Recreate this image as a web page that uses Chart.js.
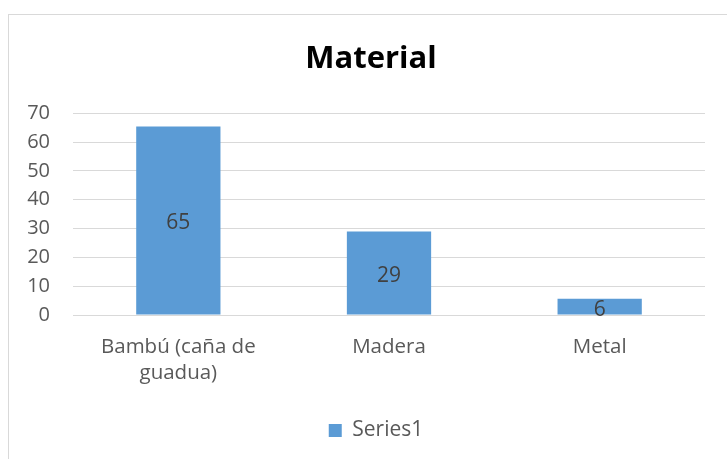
<!DOCTYPE html>
<html>
<head>
<meta charset="utf-8">
<script src="https://cdn.jsdelivr.net/npm/chart.js@4/dist/chart.umd.min.js"></script>
<style>
    html, body { margin: 0; padding: 0; background: #fff; overflow: hidden; }
    #frame {
        position: absolute; left: 8px; top: 14px;
        width: 760px; height: 500px;
        border: 1px solid #d9d9d9;
    }
    #wrap { position: absolute; left: 0; top: 0; width: 727px; height: 459px; }
</style>
</head>
<body>
<div id="frame"></div>
<div id="wrap"><canvas id="materialChart" width="727" height="459"></canvas></div>

<script>
// ======================================================
// Données
// ======================================================

const categories = [["Bambú (caña de", "guadua)"], "Madera", "Metal"];
const values = [65.4, 29.0, 5.6];
const yTicks = [0, 10, 20, 30, 40, 50, 60, 70];
const seriesName = "Series1";

const textColor = "#595959";

// ======================================================
// Etiquettes dans les barres
// ======================================================

const barLabels = {

    id: "barLabels",

    // titre et légende décalés comme dans Excel
    afterLayout(chart) {

        chart.titleBlock.left = 37;
        chart.legend.left = 47;

    },

    afterDatasetsDraw(chart) {

        const ctx = chart.ctx;
        const meta = chart.getDatasetMeta(0);

        ctx.save();
        ctx.font = "21px 'Open Sans'";
        ctx.fillStyle = "#404040";
        ctx.textAlign = "center";
        ctx.textBaseline = "middle";

        meta.data.forEach((bar, i) => {

            const y = (bar.y + bar.base) / 2 + 3;
            ctx.fillText(Math.round(values[i]), bar.x, y);

        });

        ctx.restore();

    }

};

// ======================================================
// Graphique
// ======================================================

new Chart(document.getElementById("materialChart"), {

    type: "bar",

    data: {

        labels: categories,

        datasets: [
            {
                label: seriesName,
                data: values,
                backgroundColor: "#5B9BD5",
                barPercentage: 0.4,
                categoryPercentage: 1
            }
        ]

    },

    options: {

        responsive: false,
        animation: false,

        layout: {
            padding: { left: 0, right: 22, top: 0, bottom: 8 }
        },

        plugins: {

            title: {
                display: true,
                text: "Material",
                color: "#000",
                font: { family: "Open Sans", size: 31, weight: "bold" },
                padding: { top: 41, bottom: 35 }
            },

            legend: {
                position: "bottom",
                labels: {
                    color: textColor,
                    font: { family: "Open Sans", size: 21 },
                    boxWidth: 13,
                    boxHeight: 13,
                    padding: 8
                }
            },

            tooltip: { enabled: false }

        },

        scales: {

            x: {
                grid: { display: false, drawTicks: false },
                border: { display: false },
                ticks: {
                    color: textColor,
                    font: { family: "Open Sans", size: 20.5, lineHeight: 1.27 },
                    padding: 19,
                    maxRotation: 0
                },
                afterFit: s => { s.height = 97; }
            },

            y: {
                min: 0,
                max: 70,
                grid: { color: "#d9d9d9", drawTicks: false },
                border: { display: false },
                afterBuildTicks: s => { s.ticks = yTicks.map(v => ({ value: v })); },
                ticks: {
                    color: textColor,
                    font: { family: "Open Sans", size: 20 },
                    padding: 23
                },
                afterFit: s => { s.width = 73; }
            }

        }

    },

    plugins: [barLabels]

});
</script>
</body>
</html>
